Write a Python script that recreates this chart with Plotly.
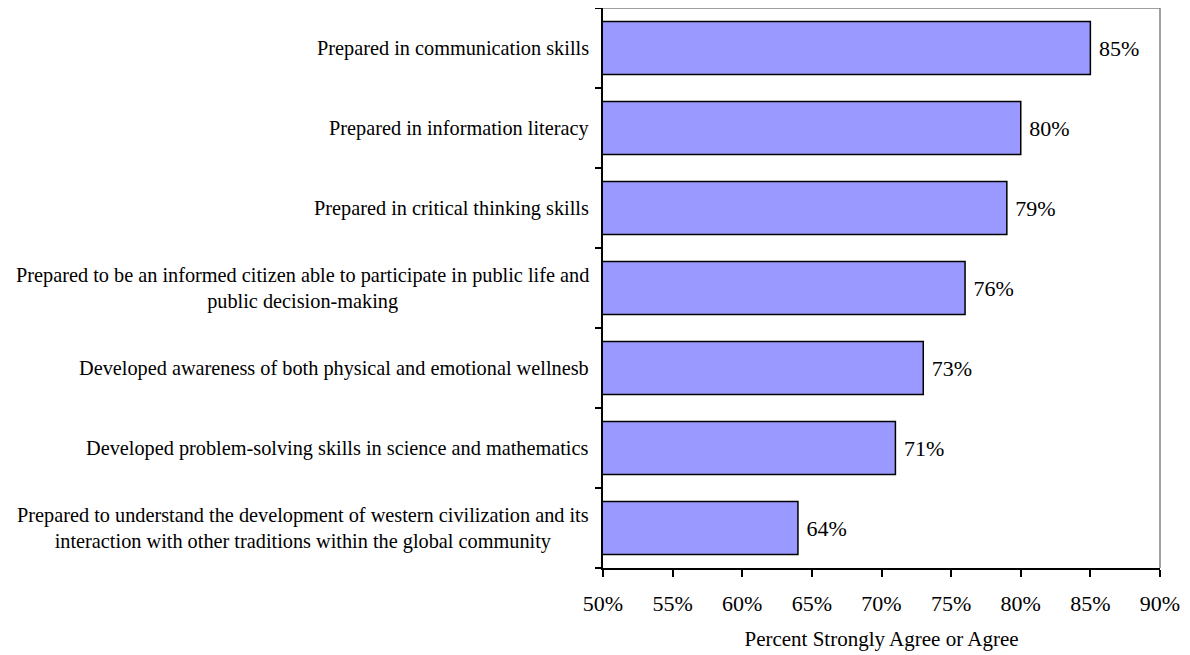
import plotly.graph_objects as go

categories = [
    "Prepared in communication skills",
    "Prepared in information literacy",
    "Prepared in critical thinking skills",
    "Prepared to be an informed citizen able to participate in public life and<br>public decision-making",
    "Developed awareness of both physical and emotional wellnesb",
    "Developed problem-solving skills in science and mathematics",
    "Prepared to understand the development of western civilization and its<br>interaction with other traditions within the global community",
]
values = [0.85, 0.80, 0.79, 0.76, 0.73, 0.71, 0.64]
value_labels = [" 85%", " 80%", " 79%", " 76%", " 73%", " 71%", " 64%"]
x_ticks = [0.50, 0.55, 0.60, 0.65, 0.70, 0.75, 0.80, 0.85, 0.90]
x_tick_labels = ["50%", "55%", "60%", "65%", "70%", "75%", "80%", "85%", "90%"]
x_title = "Percent Strongly Agree or Agree"

FONT = "Liberation Serif, Times New Roman, serif"

fig = go.Figure()
fig.add_trace(go.Bar(
    y=categories,
    x=values,
    orientation="h",
    width=0.66,
    marker=dict(color="#9999FF", line=dict(color="black", width=1.5)),
    text=value_labels,
    textposition="outside",
    textfont=dict(family=FONT, size=22, color="black"),
    cliponaxis=False,
    hoverinfo="skip",
))

for cat in categories:
    fig.add_annotation(
        x=0, xref="paper", y=cat, yref="y",
        text=cat, showarrow=False,
        xanchor="right", yanchor="middle", align="center",
        xshift=-12,
        font=dict(family=FONT, size=20.3, color="black"),
    )

# gray top/right border of plot area
fig.add_shape(type="line", xref="paper", yref="paper", x0=0, x1=1, y0=1, y1=1,
              line=dict(color="#808080", width=1.5), layer="below")
fig.add_shape(type="line", xref="paper", yref="paper", x0=1, x1=1, y0=0, y1=1,
              line=dict(color="#808080", width=1.5), layer="below")

fig.update_layout(
    width=1182, height=647,
    margin=dict(l=595, r=30, t=0, b=87),
    paper_bgcolor="white", plot_bgcolor="white",
    showlegend=False,
    font=dict(family=FONT, color="black"),
    xaxis=dict(
        range=[0.50, 0.90],
        tickvals=x_ticks, ticktext=x_tick_labels,
        ticks="outside", ticklen=7, tickwidth=1.5, tickcolor="black",
        ticklabelstandoff=8,
        showline=True, linecolor="black", linewidth=1.5,
        showgrid=False, zeroline=False,
        tickfont=dict(family=FONT, size=22, color="black"),
        title=dict(text=x_title, font=dict(family=FONT, size=21, color="black"), standoff=16),
    ),
    yaxis=dict(
        type="category",
        categoryorder="array", categoryarray=categories[::-1],
        range=[-0.5, len(categories) - 0.5],
        showticklabels=False,
        ticks="outside", ticklen=6, tickwidth=1.5, tickcolor="black",
        tickson="boundaries",
        showline=True, linecolor="black", linewidth=1.5,
        showgrid=False, zeroline=False,
    ),
)

fig.write_html("out.html")
